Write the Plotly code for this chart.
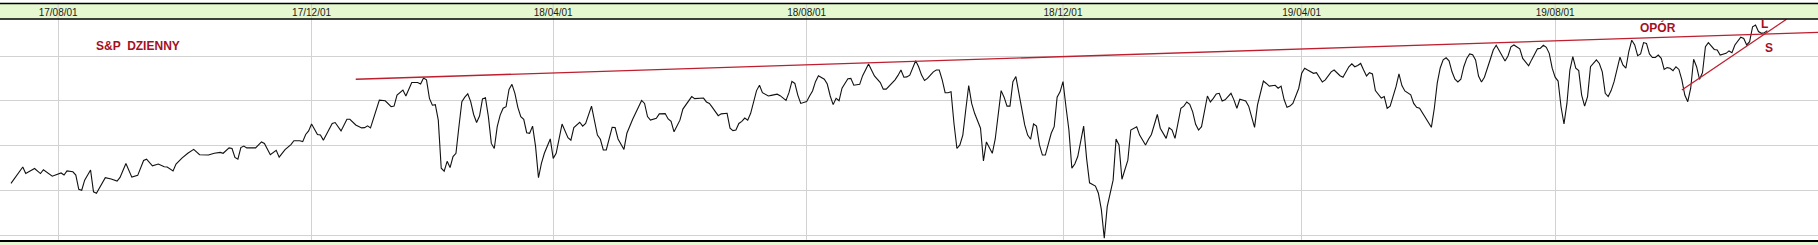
import plotly.graph_objects as go

# ---- data (session index from first bar, daily close) ----
SESSIONS = [0,4,5,8,10,11,14,16,17,18,19,21,22,23,24,25,27,28,29,32,34,36,37,39,41,43,45,46,48,50,52,53,55,56,58,60,62,64,67,69,71,72,74,75,76,77,78,79,80,81,83,85,86,88,90,91,93,95,96,98,99,100,101,102,104,105,106,109,110,112,114,115,117,119,120,121,122,125,127,129,130,131,133,134,136,138,139,140,141,142,143,144,145,146,147,148,149,150,151,152,153,154,155,156,157,158,159,160,161,162,163,164,165,166,167,168,169,170,171,172,173,174,175,176,177,178,179,180,181,183,184,185,187,189,190,191,193,194,195,197,198,199,200,201,202,204,205,206,208,209,211,213,214,215,216,217,219,220,222,223,224,225,226,227,228,230,231,232,234,235,236,237,238,239,240,241,243,244,245,246,247,248,249,250,251,253,254,255,257,258,260,261,262,263,264,265,266,267,268,270,271,272,273,274,276,277,278,279,280,281,282,283,284,285,286,288,289,291,292,293,295,296,297,299,300,301,302,303,304,305,306,307,308,309,310,311,312,313,314,315,316,317,318,319,320,321,322,323,324,325,326,327,329,330,331,333,334,336,337,338,339,340,341,342,344,345,346,347,348,349,350,351,353,354,355,356,357,358,359,360,361,362,364,365,366,368,369,370,371,372,374,375,376,377,379,380,382,383,385,386,387,389,390,392,393,394,395,397,398,399,400,401,402,403,404,406,407,408,409,410,411,412,414,415,416,417,419,420,421,422,423,425,426,427,429,430,431,432,433,434,435,436,437,438,439,440,442,443,444,445,446,448,449,450,451,452,454,455,456,457,458,459,460,461,462,463,465,466,467,468,470,471,472,473,475,476,477,478,479,480,481,482,483,484,485,486,487,488,489,490,491,492,493,494,495,496,497,498,499,500,502,503,504,505,507,508,509,510,512,513,514,515,516,518,519,520,521,522,523,524,525,526,527,528,529,530,531,532,533,534,535,536,538,539,540,541,542,543,544,545,546,547,548,549,550,551,552,553,554,555,556,557,558,559,560,561,562,563,564,565,566,567,568,569,570,571,572,573,574,575,576,578,579,580,581,582,583,584,585,587,588,589,590,591,592,593,594,595,596]
CLOSE = [2523,2578,2556,2573,2556,2569,2547,2554,2558,2551,2565,2562,2551,2503,2500,2534,2568,2495,2490,2542,2538,2531,2543,2590,2544,2550,2600,2604,2582,2588,2579,2578,2565,2588,2608,2624,2637,2619,2618,2624,2627,2624,2642,2640,2610,2604,2643,2648,2642,2642,2642,2662,2657,2619,2634,2611,2636,2653,2666,2666,2663,2687,2699,2722,2687,2685,2668,2724,2727,2699,2738,2738,2719,2709,2710,2716,2709,2802,2800,2780,2782,2819,2836,2816,2861,2861,2856,2876,2870,2808,2785,2787,2735,2574,2564,2597,2576,2613,2624,2713,2797,2812,2823,2797,2754,2727,2749,2806,2810,2747,2657,2640,2713,2752,2775,2780,2838,2855,2825,2778,2747,2738,2693,2691,2715,2648,2542,2590,2624,2672,2607,2624,2722,2676,2668,2710,2728,2715,2724,2782,2738,2685,2671,2635,2635,2711,2710,2672,2637,2691,2739,2780,2801,2791,2747,2735,2741,2756,2757,2739,2731,2696,2717,2735,2772,2799,2814,2807,2808,2809,2796,2791,2778,2762,2750,2756,2758,2708,2700,2702,2724,2731,2742,2735,2758,2834,2852,2827,2816,2818,2822,2817,2808,2801,2827,2865,2858,2819,2791,2797,2816,2833,2864,2884,2872,2856,2816,2787,2808,2800,2842,2858,2874,2875,2852,2855,2884,2923,2905,2883,2861,2839,2839,2860,2870,2885,2903,2879,2880,2886,2912,2934,2914,2886,2868,2875,2886,2897,2903,2903,2870,2827,2827,2830,2724,2640,2652,2685,2770,2851,2791,2758,2708,2598,2662,2624,2672,2834,2812,2782,2782,2864,2881,2825,2719,2685,2671,2722,2715,2652,2618,2618,2691,2713,2812,2830,2864,2780,2702,2574,2588,2613,2715,2607,2525,2514,2490,2436,2339,2445,2534,2672,2652,2537,2601,2702,2713,2685,2652,2671,2687,2754,2708,2674,2710,2702,2674,2775,2782,2796,2788,2763,2721,2702,2713,2816,2796,2808,2823,2825,2799,2803,2825,2803,2775,2805,2799,2782,2747,2711,2786,2866,2858,2849,2852,2842,2849,2805,2778,2782,2791,2814,2842,2892,2909,2903,2892,2894,2879,2863,2870,2897,2903,2894,2884,2879,2914,2924,2914,2918,2925,2903,2883,2894,2890,2834,2809,2814,2775,2782,2847,2890,2851,2833,2820,2791,2778,2775,2760,2744,2728,2711,2775,2860,2910,2937,2944,2934,2897,2872,2863,2872,2914,2942,2957,2954,2937,2883,2863,2879,2939,2970,2986,2968,2933,2950,2981,2987,2974,2942,2928,2917,2937,2974,2976,2986,2979,2959,2909,2879,2866,2780,2722,2791,2903,2948,2909,2901,2819,2782,2814,2914,2937,2925,2897,2825,2814,2834,2864,2909,2946,2920,2909,2965,3003,2987,2951,2957,2995,2992,2957,2945,2945,2953,2942,2905,2911,2909,2901,2914,2905,2870,2819,2797,2842,2939,2914,2872,2894,2981,2995,2972,2970,2953,2956,2959,2967,2961,2987,3013,3009,2987,2998,3048,3054,3032,3026,3028,3035]

TICK_SESSIONS = [16, 102, 184, 270, 357, 438, 524]
TICK_LABELS = ["17/08/01", "17/12/01", "18/04/01", "18/08/01", "18/12/01", "19/04/01", "19/08/01"]
Y_GRID = [2350, 2500, 2650, 2800, 2950]

# trend lines (session, level)
OPOR_X = [117, 613.2]
OPOR_Y = [2872, 3029]
SUP_X = [567, 602.5]
SUP_Y = [2836, 3073]

X_RANGE = [-3.73, 613.2]
Y_RANGE = [2330, 3074]

RED = "rgb(190,30,45)"
TXT_RED = "rgb(165,15,30)"
GREEN = "#e6f8d0"
GRID = "#d2d2d2"

H = 245.0
def py(p):  # paper fraction from pixel row
    return (H - p) / H

fig = go.Figure()
fig.add_trace(go.Scatter(x=SESSIONS, y=CLOSE, mode="lines",
                         line=dict(color="#111111", width=1.1), hoverinfo="skip"))
fig.add_trace(go.Scatter(x=OPOR_X, y=OPOR_Y, mode="lines",
                         line=dict(color=RED, width=1.3), hoverinfo="skip"))
fig.add_trace(go.Scatter(x=SUP_X, y=SUP_Y, mode="lines",
                         line=dict(color=RED, width=1.3), hoverinfo="skip"))

shapes = [
    dict(type="rect", xref="paper", yref="paper", x0=0, x1=1, y0=py(19), y1=py(3.5),
         fillcolor=GREEN, line=dict(width=0), layer="below"),
    dict(type="rect", xref="paper", yref="paper", x0=0, x1=1, y0=0, y1=py(241),
         fillcolor=GREEN, line=dict(width=0), layer="below"),
]
for t in TICK_SESSIONS:
    shapes.append(dict(type="line", xref="x", yref="paper", x0=t, x1=t,
                       y0=py(19), y1=py(3.5), line=dict(color=GRID, width=1), layer="below"))
shapes += [
    dict(type="line", xref="paper", yref="paper", x0=0, x1=1, y0=py(3.5), y1=py(3.5),
         line=dict(color="black", width=1.5)),
    dict(type="line", xref="paper", yref="paper", x0=0, x1=1, y0=py(19), y1=py(19),
         line=dict(color="black", width=1.5)),
    dict(type="line", xref="paper", yref="paper", x0=0, x1=1, y0=py(241), y1=py(241),
         line=dict(color="black", width=2)),
]

ann_font = dict(family="Liberation Sans, Arial, sans-serif", size=12, color=TXT_RED)
annotations = [
    dict(x=43, y=2983, xref="x", yref="y", text="<b>S&amp;P  DZIENNY</b>", showarrow=False, font=ann_font),
    dict(x=559, y=3046, xref="x", yref="y", text="<b>OPÓR</b>", showarrow=False, font=ann_font),
    dict(x=595.2, y=3057, xref="x", yref="y", text="<b>L</b>", showarrow=False, font=ann_font),
    dict(x=596.5, y=2978, xref="x", yref="y", text="<b>S</b>", showarrow=False, font=ann_font),
]

fig.update_layout(
    width=1818, height=245,
    margin=dict(l=0, r=0, t=0, b=0, pad=0),
    paper_bgcolor="white", plot_bgcolor="white",
    showlegend=False,
    shapes=shapes, annotations=annotations,
    xaxis=dict(range=X_RANGE, domain=[0, 1], side="top",
               tickmode="array", tickvals=TICK_SESSIONS, ticktext=TICK_LABELS,
               ticks="", showgrid=True, gridcolor=GRID, gridwidth=1,
               zeroline=False, showline=False, automargin=False,
               tickfont=dict(family="Liberation Sans, Arial, sans-serif", size=10, color="#1a1a1a"),
               fixedrange=True),
    yaxis=dict(range=Y_RANGE, domain=[py(241), py(19)],
               tickmode="array", tickvals=Y_GRID, showticklabels=False, ticks="",
               showgrid=True, gridcolor=GRID, gridwidth=1,
               zeroline=False, showline=False, automargin=False, fixedrange=True),
)

fig.write_html("out.html")
